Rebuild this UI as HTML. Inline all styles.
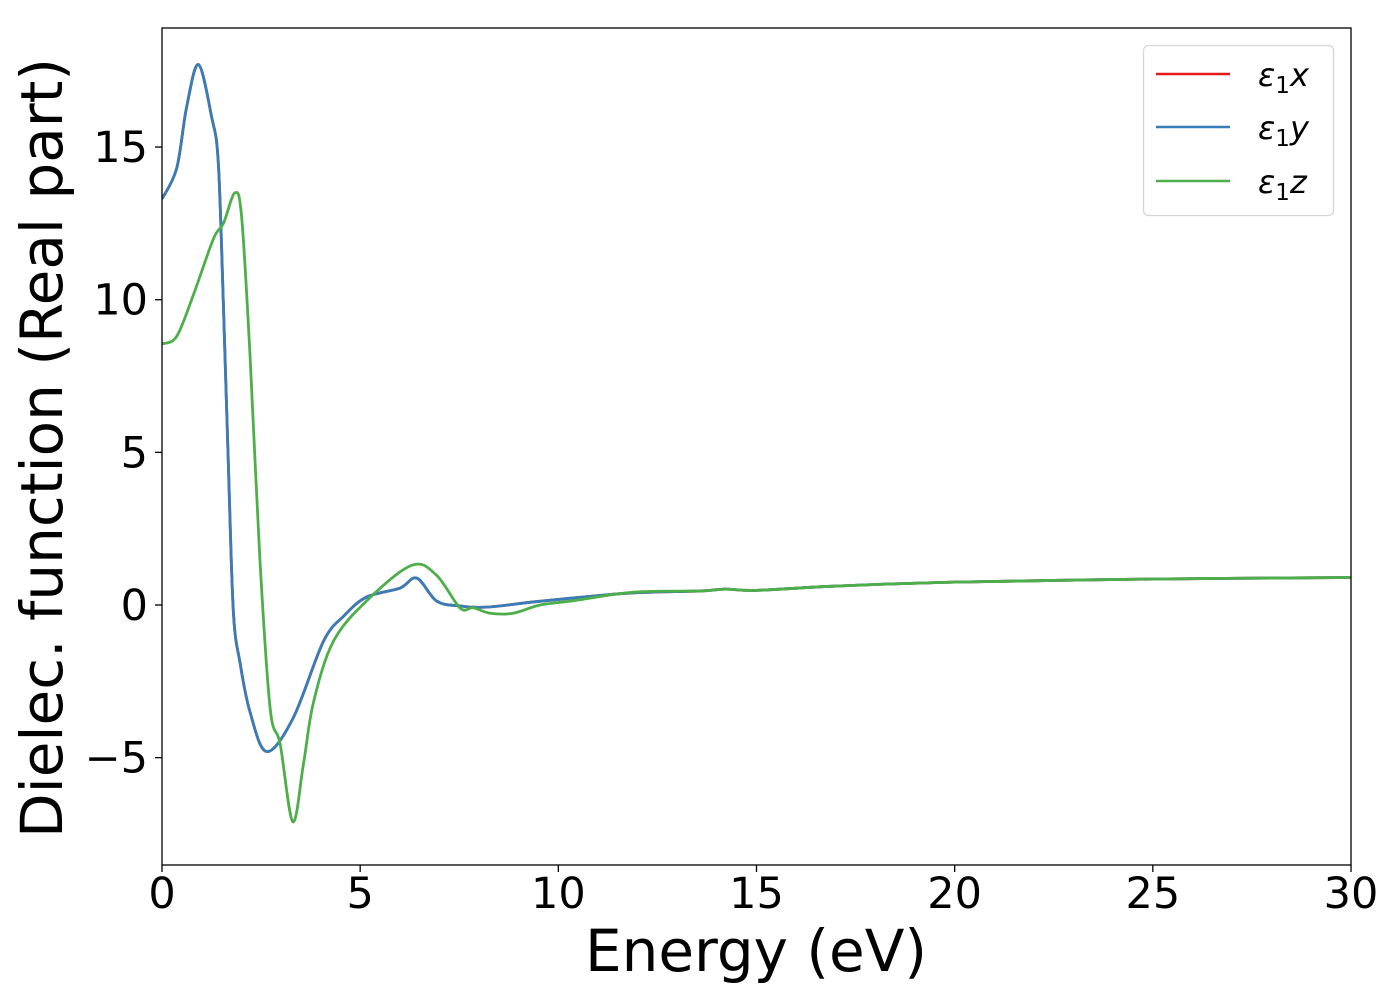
<!DOCTYPE html>
<html><head><meta charset="utf-8"><style>
body{margin:0;background:#fff}
svg text{font-family:"DejaVu Sans","Liberation Sans",sans-serif;fill:#000}
</style></head><body>
<svg id="chart" width="1400" height="1000" viewBox="0 0 1400 1000" xmlns="http://www.w3.org/2000/svg">
<rect width="1400" height="1000" fill="#fff"/>
<g id="series"></g>
<rect x="162" y="28" width="1189" height="837" fill="none" stroke="#000" stroke-width="1.3"/>
<g id="xticks"></g>
<g id="yticks"></g>
<text x="756" y="971" font-size="58" text-anchor="middle">Energy (eV)</text>
<text transform="translate(62,448) rotate(-90)" font-size="58" text-anchor="middle">Dielec. function (Real part)</text>
<g>
<rect x="1143.5" y="45.5" width="190" height="170" rx="5" fill="#fff" stroke="#d6d6d6" stroke-width="1.3"/>
<line x1="1156" y1="74" x2="1230" y2="74" stroke="#e41a1c" stroke-width="2.5"/>
<text x="1258" y="86" font-size="32" font-style="italic">ε<tspan font-style="normal" font-size="23" dy="7">1</tspan><tspan dy="-7">x</tspan></text>
<line x1="1156" y1="127" x2="1230" y2="127" stroke="#377eb8" stroke-width="2.5"/>
<text x="1258" y="139" font-size="32" font-style="italic">ε<tspan font-style="normal" font-size="23" dy="7">1</tspan><tspan dy="-7">y</tspan></text>
<line x1="1156" y1="181" x2="1230" y2="181" stroke="#4daf4a" stroke-width="2.5"/>
<text x="1258" y="193" font-size="32" font-style="italic">ε<tspan font-style="normal" font-size="23" dy="7">1</tspan><tspan dy="-7">z</tspan></text>
</g>
</svg>
<script>
const energyXY = [0,0.37,0.62,0.92,1.25,1.42,1.55,1.67,1.8,1.97,2.22,2.64,3.31,4.07,4.58,5.16,6.0,6.43,6.93,7.52,8.19,9.37,10.63,11.9,13.6,14.2,15,17,20,25,30];
const epsX = [13.3,14.3,16.3,17.7,16.0,14.5,9.8,4.8,-0.2,-1.9,-3.5,-4.8,-3.7,-1.2,-0.37,0.26,0.55,0.88,0.13,-0.03,-0.07,0.1,0.26,0.4,0.46,0.52,0.48,0.62,0.75,0.85,0.9];
const epsY = [13.3,14.3,16.3,17.7,16.0,14.5,9.8,4.8,-0.2,-1.9,-3.5,-4.8,-3.7,-1.2,-0.37,0.26,0.55,0.88,0.13,-0.03,-0.07,0.1,0.26,0.4,0.46,0.52,0.48,0.62,0.75,0.85,0.9];
const energyZ = [0,0.37,0.79,1.3,1.55,1.84,2.01,2.22,2.47,2.73,2.98,3.3,3.57,3.82,4.32,5.16,6.3,6.93,7.52,7.85,8.28,8.86,9.54,10.38,11.9,13.6,14.2,15,17,20,25,30];
const epsZ = [8.55,8.8,10.15,12.0,12.5,13.5,12.7,8.2,1.5,-3.4,-4.55,-7.1,-5.2,-3.2,-1.2,0.13,1.3,0.97,-0.1,-0.09,-0.27,-0.27,0.0,0.14,0.42,0.46,0.52,0.48,0.62,0.75,0.85,0.9];
const xTicks = [0,5,10,15,20,25,30];
const yTicks = [-5,0,5,10,15];
const yTickLabels = ["\u22125","0","5","10","15"];

const NS="http://www.w3.org/2000/svg";
const X0=162,X1=1351,XMIN=0,XMAX=30;
const Y0=605, YPER=30.53;
function xs(e){return X0+(e-XMIN)/(XMAX-XMIN)*(X1-X0);}
function ys(v){return Y0-v*YPER;}
function smoothPath(ex,vy){
  const p=ex.map((e,i)=>[xs(e),ys(vy[i])]);
  let d="M"+p[0][0].toFixed(2)+","+p[0][1].toFixed(2);
  for(let i=0;i<p.length-1;i++){
    const a=p[Math.max(i-1,0)],b=p[i],c=p[i+1],n=p[Math.min(i+2,p.length-1)];
    const c1=[b[0]+(c[0]-a[0])/6,b[1]+(c[1]-a[1])/6];
    const c2=[c[0]-(n[0]-b[0])/6,c[1]-(n[1]-b[1])/6];
    d+=" C"+c1[0].toFixed(2)+","+c1[1].toFixed(2)+" "+c2[0].toFixed(2)+","+c2[1].toFixed(2)+" "+c[0].toFixed(2)+","+c[1].toFixed(2);
  }
  return d;
}
const g=document.getElementById("series");
function addLine(ex,vy,color,name){
  const p=document.createElementNS(NS,"path");
  p.setAttribute("d",smoothPath(ex,vy));
  p.setAttribute("fill","none");p.setAttribute("stroke",color);p.setAttribute("stroke-width","2.8");
  p.setAttribute("stroke-linejoin","round");
  
  
  g.appendChild(p);
}
const clip=document.createElementNS(NS,"clipPath");clip.setAttribute("id","cp");
const cr=document.createElementNS(NS,"rect");cr.setAttribute("x",X0);cr.setAttribute("y",28);cr.setAttribute("width",X1-X0);cr.setAttribute("height",837);
clip.appendChild(cr);document.getElementById("chart").appendChild(clip);
g.setAttribute("clip-path","url(#cp)");
addLine(energyXY,epsX,"#e41a1c","series-eps1-x");
addLine(energyXY,epsY,"#377eb8","series-eps1-y");
addLine(energyZ,epsZ,"#4daf4a","series-eps1-z");

const xt=document.getElementById("xticks");
xTicks.forEach(t=>{
  const l=document.createElementNS(NS,"line");
  l.setAttribute("x1",xs(t));l.setAttribute("x2",xs(t));l.setAttribute("y1",865);l.setAttribute("y2",872);l.setAttribute("stroke","#000");l.setAttribute("stroke-width","1.3");
  
  
  xt.appendChild(l);
  const tx=document.createElementNS(NS,"text");
  tx.setAttribute("x",xs(t));tx.setAttribute("y",908);tx.setAttribute("font-size","43");tx.setAttribute("text-anchor","middle");
  tx.textContent=String(t);
  
  
  xt.appendChild(tx);
});
const yt=document.getElementById("yticks");
yTicks.forEach((t,i)=>{
  const l=document.createElementNS(NS,"line");
  l.setAttribute("x1",155);l.setAttribute("x2",162);l.setAttribute("y1",ys(t));l.setAttribute("y2",ys(t));l.setAttribute("stroke","#000");l.setAttribute("stroke-width","1.3");
  
  
  yt.appendChild(l);
  const tx=document.createElementNS(NS,"text");
  tx.setAttribute("x",148);tx.setAttribute("y",ys(t)+15);tx.setAttribute("font-size","43");tx.setAttribute("text-anchor","end");
  tx.textContent=yTickLabels[i];
  
  
  yt.appendChild(tx);
});
</script>
</body></html>
